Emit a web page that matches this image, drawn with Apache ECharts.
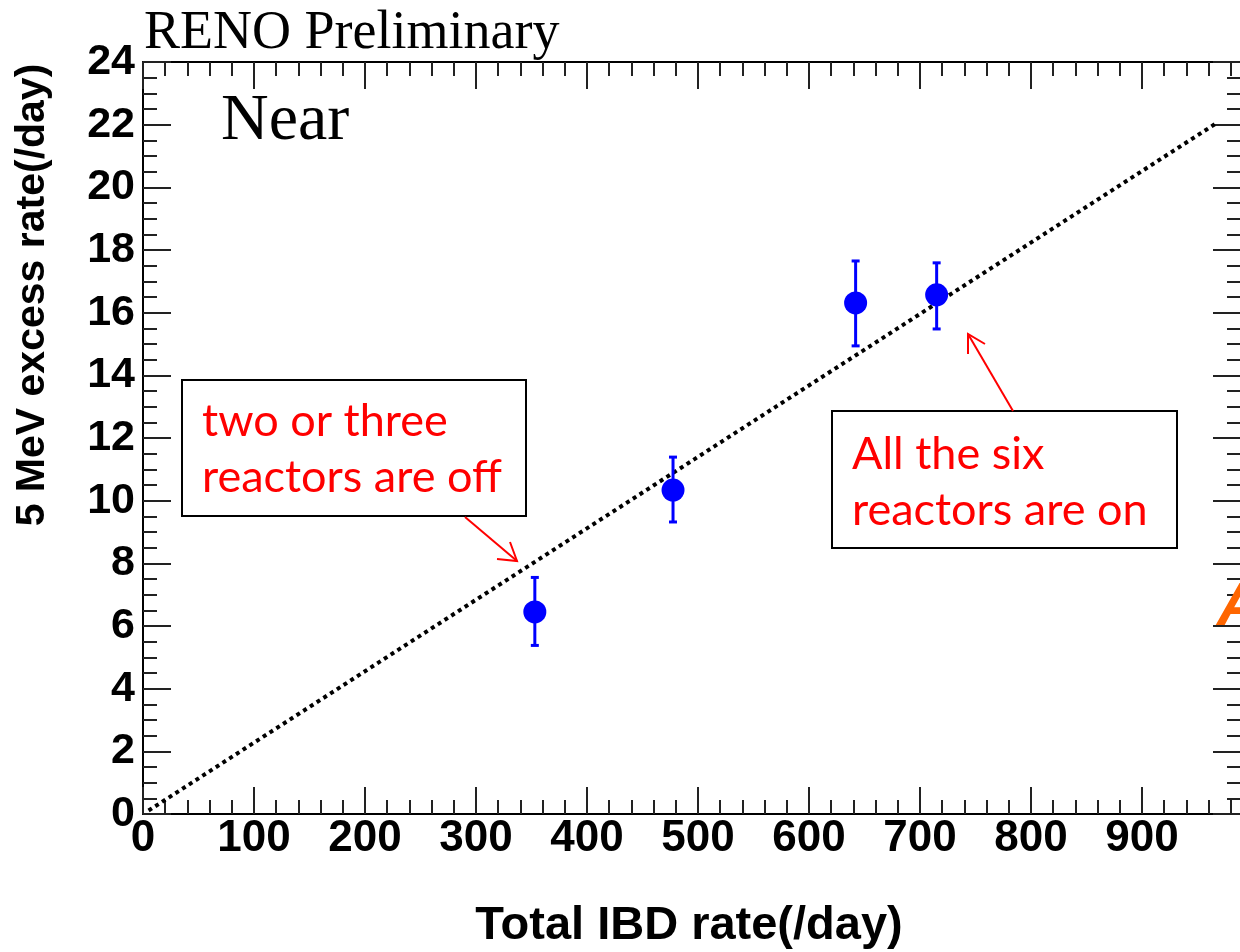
<!DOCTYPE html>
<html>
<head>
<meta charset="utf-8">
<script src="https://cdn.jsdelivr.net/npm/echarts@6/dist/echarts.min.js"></script>
<style>
html,body{margin:0;padding:0;background:#fff;}
#chart{width:1240px;height:952px;}
</style>
</head>
<body>
<div id="chart"></div>
<script>
// ---- data ----
const ibdRate    = [353, 477.5, 642, 715];      // Total IBD rate (/day)
const excessRate = [6.45, 10.34, 16.31, 16.57]; // 5 MeV excess rate (/day)
const errUp      = [1.10, 1.05, 1.34, 1.02];
const errDown    = [1.07, 1.02, 1.37, 1.09];
const fitX       = [5, 968];
const fitY       = [0.11, 22.07];
const xTicks     = [0, 100, 200, 300, 400, 500, 600, 700, 800, 900];
const yTicks     = [0, 2, 4, 6, 8, 10, 12, 14, 16, 18, 20, 22, 24];
const titleText  = 'RENO Preliminary';
const panelLabel = 'Near';
const xTitle     = 'Total IBD rate(/day)';
const yTitle     = '5 MeV excess rate(/day)';
const note1      = ['two or three', 'reactors are off'];
const note2      = ['All the six', 'reactors are on'];

const chart = echarts.init(document.getElementById('chart'), null, {renderer: 'canvas'});

const pts = ibdRate.map((x, i) => [x, excessRate[i], excessRate[i] - errDown[i], excessRate[i] + errUp[i]]);
const fitData = fitX.map((x, i) => [x, fitY[i]]);

const axisLine = {show: true, onZero: false, lineStyle: {color: '#000', width: 2}};
const tickStyle = {color: '#222', width: 2};
const sansBold = {fontFamily: 'Liberation Sans', fontWeight: 'bold', fontSize: 44, color: '#000'};

const baseX = {
  type: 'value', min: 0, max: 1000, interval: 100,
  axisLine: axisLine,
  axisTick: {show: true, inside: true, length: 27, lineStyle: tickStyle},
  minorTick: {show: true, splitNumber: 5, length: 14, lineStyle: tickStyle},
  splitLine: {show: false}, minorSplitLine: {show: false}
};
const baseY = {
  type: 'value', min: 0, max: 24, interval: 2,
  axisLine: axisLine,
  axisTick: {show: true, inside: true, length: 28, lineStyle: tickStyle},
  minorTick: {show: true, splitNumber: 4, length: 14, lineStyle: tickStyle},
  splitLine: {show: false}, minorSplitLine: {show: false}
};

const option = {
  animation: false,
  backgroundColor: '#fff',
  grid: {left: 143, top: 62, width: 1110, height: 752, containLabel: false, outerBoundsMode: 'none'},
  xAxis: [
    Object.assign({}, baseX, {
      position: 'bottom',
      axisLabel: Object.assign({}, sansBold, {margin: 3, showMaxLabel: false,
        formatter: v => xTicks.indexOf(v) >= 0 ? String(v) : ''})
    }),
    Object.assign({}, baseX, {position: 'top', axisLabel: {show: false}})
  ],
  yAxis: [
    Object.assign({}, baseY, {
      position: 'left',
      axisLabel: Object.assign({}, sansBold, {fontSize: 43, margin: 8,
        formatter: v => yTicks.indexOf(v) >= 0 ? String(v) : ''})
    }),
    Object.assign({}, baseY, {position: 'right', offset: -12, axisLabel: {show: false}})
  ],
  series: [
    {
      type: 'line', data: fitData, symbol: 'none', xAxisIndex: 0, yAxisIndex: 0,
      lineStyle: {color: '#000', width: 4, type: [4, 4]}, z: 2
    },
    {
      type: 'custom', xAxisIndex: 0, yAxisIndex: 0, z: 3,
      data: pts,
      renderItem: function (params, api) {
        const c = api.coord([api.value(0), api.value(1)]);
        const lo = api.coord([api.value(0), api.value(2)]);
        const hi = api.coord([api.value(0), api.value(3)]);
        const blue = '#0000ff';
        return {
          type: 'group',
          children: [
            {type: 'line', shape: {x1: c[0], y1: lo[1], x2: c[0], y2: hi[1]}, style: {stroke: blue, lineWidth: 3}},
            {type: 'line', shape: {x1: c[0] - 4, y1: lo[1], x2: c[0] + 4, y2: lo[1]}, style: {stroke: blue, lineWidth: 3}},
            {type: 'line', shape: {x1: c[0] - 4, y1: hi[1], x2: c[0] + 4, y2: hi[1]}, style: {stroke: blue, lineWidth: 3}},
            {type: 'circle', shape: {cx: c[0], cy: c[1], r: 11.5}, style: {fill: blue}}
          ]
        };
      }
    }
  ],
  graphic: [
    {type: 'text', left: 144, top: 7, style: {text: titleText, font: '54px "Liberation Serif"', fill: '#000'}},
    {type: 'text', left: 221, top: 89, style: {text: panelLabel, font: '66px "Liberation Serif"', fill: '#000'}},
    {type: 'text', x: 689, y: 926, style: {text: xTitle, font: 'bold 47px "Liberation Sans"', fill: '#000', align: 'center', verticalAlign: 'middle'}},
    {type: 'text', x: 33, y: 295, rotation: Math.PI / 2, style: {text: yTitle, font: 'bold 41px "Liberation Sans"', fill: '#000', align: 'center', verticalAlign: 'middle'}},
    // annotation box 1
    {type: 'rect', shape: {x: 182, y: 380, width: 344, height: 136}, style: {fill: '#fff', stroke: '#000', lineWidth: 2}, z: 10},
    {type: 'text', x: 202, y: 421, z: 11, style: {text: note1[0], font: '45px Lato', fill: '#ff0000', verticalAlign: 'middle'}},
    {type: 'text', x: 202, y: 477, z: 11, style: {text: note1[1], font: '45px Lato', fill: '#ff0000', verticalAlign: 'middle'}},
    {type: 'polyline', z: 11, shape: {points: [[465, 517], [517, 561]]}, style: {stroke: '#ff0000', lineWidth: 2, fill: null}},
    {type: 'polyline', z: 11, shape: {points: [[497, 559], [517, 561], [510, 542]]}, style: {stroke: '#ff0000', lineWidth: 2, fill: null}},
    // annotation box 2
    {type: 'rect', shape: {x: 832, y: 411, width: 345, height: 137}, style: {fill: '#fff', stroke: '#000', lineWidth: 2}, z: 10},
    {type: 'text', x: 852, y: 454, z: 11, style: {text: note2[0], font: '45px Lato', fill: '#ff0000', verticalAlign: 'middle'}},
    {type: 'text', x: 852, y: 510, z: 11, style: {text: note2[1], font: '45px Lato', fill: '#ff0000', verticalAlign: 'middle'}},
    {type: 'polyline', z: 11, shape: {points: [[1013, 411], [968, 334]]}, style: {stroke: '#ff0000', lineWidth: 2, fill: null}},
    {type: 'polyline', z: 11, shape: {points: [[968, 354], [968, 334], [985, 344]]}, style: {stroke: '#ff0000', lineWidth: 2, fill: null}},
    // clipped orange letter at right edge
    {type: 'text', x: 1217, y: 608, z: 11, style: {text: 'A', font: 'italic bold 62px "Liberation Sans"', fill: '#ff6600', verticalAlign: 'middle'}}
  ]
};
chart.setOption(option);
</script>
</body>
</html>
